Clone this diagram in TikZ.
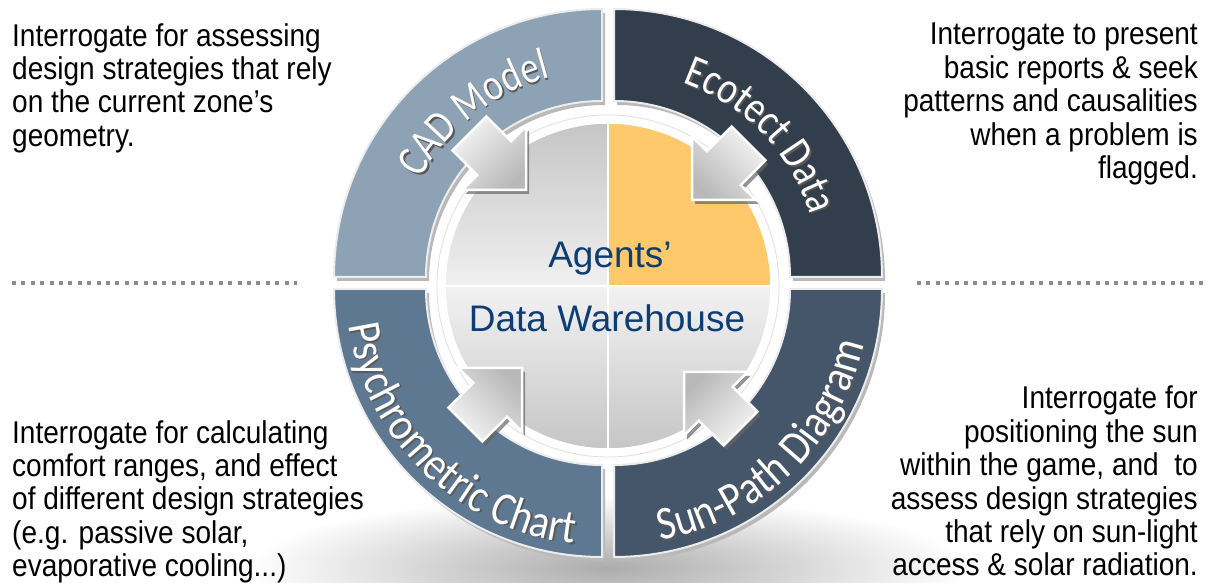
\documentclass[tikz,border=0pt]{standalone}
\usepackage{fontspec}
\setmainfont{Liberation Sans}
\newfontfamily\sidefont[FakeStretch=0.89]{Liberation Sans}
\newfontfamily\tilefam[FakeStretch=0.82]{Carlito}
\newfontfamily\tilefamwide[FakeStretch=0.87]{Carlito}
\newcommand{\uppertile}{\tilefam\fontsize{45}{45}\selectfont}
\newcommand{\lowertile}{\tilefamwide\fontsize{47}{47}\selectfont}
\usetikzlibrary{decorations.text}
\definecolor{cadblue}{RGB}{142,162,181}
\definecolor{ecodark}{RGB}{50,62,76}
\definecolor{psyblue}{RGB}{95,120,146}
\definecolor{sunblue}{RGB}{69,86,106}
\definecolor{sunyellow}{RGB}{254,201,106}
\definecolor{titleblue}{RGB}{14,61,115}
\definecolor{sepgrey}{RGB}{140,140,140}

\newcommand{\ringtext}[6]{%
  \path[decorate,decoration={text along path,text align=center,text color=black!65,text={|#6|#5}}]
    ([shift={(#2:#4)},shift={(1.5,-1.5)}]#1) arc[start angle=#2,end angle=#3,radius=#4];
  \path[decorate,decoration={text along path,text align=center,text color=white,text={|#6|#5}}]
    ([shift={(#2:#4)}]#1) arc[start angle=#2,end angle=#3,radius=#4];}

\begin{document}
\begin{tikzpicture}[x=1pt,y=1pt,
    note/.style={font=\sidefont\fontsize{31.5}{33.4}\selectfont,inner sep=0pt},
    tileshadow/.style={fill=gray!55},
    tile/.style={draw=white!85!gray,line width=2pt},
    arrowshape/.style={insert path={(0,0)--(-45,45)--(-45,24)--(-80,24)--(-80,-24)--(-45,-24)--(-45,-45)--cycle}},
    separator/.style={line width=4pt,dash pattern=on 4pt off 5.4pt,color=sepgrey}]
    \useasboundingbox (0,0) rectangle (1209,583);
    \coordinate (C) at (608,300);
    \coordinate (M) at (608,297);

    \shade[inner color=gray!65,outer color=white] (608,15) ellipse [x radius=360,y radius=72];

    \foreach \s/\dx/\dy/\col/\name in {90/-6/6/cadblue/cad,0/6/6/ecodark/eco,180/-6/-6/psyblue/psy,270/6/-6/sunblue/sun}{
      \coordinate (\name) at ([shift={(\dx,\dy)}]C);
      \coordinate (S) at ([shift={(\dx+3,\dy-4)}]C);
      \fill[tileshadow] ([shift={(\s:268)}]S) arc[start angle=\s,end angle=\s+90,radius=268]
        -- ([shift={(\s+90:176)}]S) arc[start angle=\s+90,end angle=\s,radius=176] -- cycle;
      \filldraw[tile,fill=\col] ([shift={(\s:268)}]\name) arc[start angle=\s,end angle=\s+90,radius=268]
        -- ([shift={(\s+90:176)}]\name) arc[start angle=\s+90,end angle=\s,radius=176] -- cycle;
    }

    \fill[white] (M) circle (172);
    \draw[gray!25,line width=.8pt] (M) circle (171);
    \shade[top color=gray!45,bottom color=gray!12] (M) -- ([shift={(90:163)}]M) arc[start angle=90,end angle=180,radius=163] -- cycle;
    \fill[sunyellow] (M) -- ([shift={(0:163)}]M) arc[start angle=0,end angle=90,radius=163] -- cycle;
    \shade[top color=gray!10,bottom color=gray!45] (M) -- ([shift={(180:163)}]M) arc[start angle=180,end angle=360,radius=163] -- cycle;
    \draw[white,line width=1.5pt] (M) circle (163);
    \draw[white,line width=2.5pt] ([yshift=163]M) -- ([yshift=-163]M);
    \draw[white,line width=2.5pt] ([xshift=-163]M) -- ([xshift=163]M);

    \ringtext{cad}{173}{83}{206}{CAD Model}{\uppertile}
    \ringtext{eco}{89}{-1}{206}{Ecotect Data}{\uppertile}
    \ringtext{psy}{181}{271}{256}{Psychrometric Chart}{\lowertile}
    \ringtext{sun}{269}{359}{256}{Sun-Path Diagram}{\lowertile}

    \foreach \tx/\ty/\d/\a in {526/393/-45/45,692/383/-135/-45,522/215/45/135,684/211/135/225}{
      \fill[black!60,opacity=.7,shift={(\tx+3,\ty-4)},rotate=\d,arrowshape];
      \shadedraw[top color=gray!8,bottom color=gray!55,shading angle=\a,draw=white,line width=2.5pt,
        shift={(\tx,\ty)},rotate=\d,arrowshape];
    }

    \node[font=\fontsize{37}{37}\selectfont,text=titleblue,anchor=base] (agents) at (610,315) {Agents’};
    \node[font=\fontsize{37}{37}\selectfont,text=titleblue,anchor=base] (warehouse) at (607,251) {Data Warehouse};

    \node[note,anchor=north west,align=left] (cadnote) at (12,560)
      {Interrogate for assessing\\design strategies that rely\\on the current zone’s\\geometry.};
    \node[note,anchor=north east,align=right] (econote) at (1198,560)
      {Interrogate to present\\basic reports \& seek\\patterns and causalities\\when a problem is\\flagged.};
    \node[note,anchor=north west,align=left] (psynote) at (12,163)
      {Interrogate for calculating\\comfort ranges, and effect\\of different design strategies\\(e.g. passive solar,\\evaporative cooling...)};
    \node[note,anchor=north east,align=right] (sunnote) at (1198,197)
      {Interrogate for\\positioning the sun\\within the game, and~~to\\assess design strategies\\that rely on sun-light\\access \& solar radiation.};

    \coordinate (sepL1) at (12,300);
    \coordinate (sepL2) at (297,300);
    \coordinate (sepR1) at (917,300);
    \coordinate (sepR2) at (1203,300);
    \draw[separator] (sepL1) -- (sepL2);
    \draw[separator] (sepR1) -- (sepR2);
\end{tikzpicture}
\end{document}
